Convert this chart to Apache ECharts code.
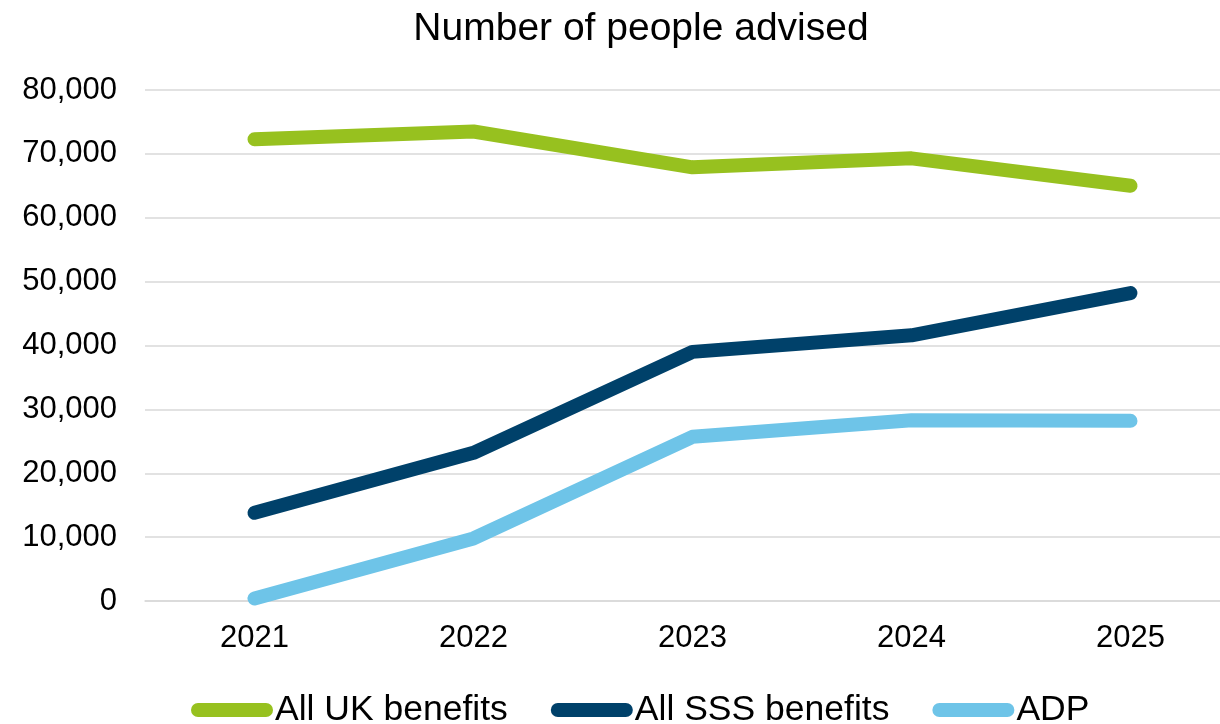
<!DOCTYPE html>
<html>
<head>
<meta charset="utf-8">
<script src="https://cdn.jsdelivr.net/npm/echarts@6/dist/echarts.min.js"></script>
<style>
html,body{margin:0;padding:0;background:#fff;overflow:hidden;width:1220px;height:724px;}
#chart{width:1240px;height:724px;}
</style>
</head>
<body>
<div id="chart"></div>
<script>
const categories = ['2021', '2022', '2023', '2024', '2025'];
const ukBenefits = [72300, 73500, 67900, 69300, 65000];
const sssBenefits = [13800, 23200, 39000, 41600, 48200];
const adp = [400, 9800, 25700, 28300, 28200];
const seriesNames = ['All UK benefits', 'All SSS benefits', 'ADP'];
const colors = ['#97C11F', '#00416A', '#6EC4E8'];

const font = 'Liberation Sans, Arial, sans-serif';
const chart = echarts.init(document.getElementById('chart'));

function fmt(v) {
  return String(v).replace(/\B(?=(\d{3})+(?!\d))/g, ',');
}

function lineSeries(name, data, color) {
  return {
    name: name,
    type: 'line',
    data: data,
    symbol: 'none',
    color: color,
    lineStyle: { width: 14, color: color, cap: 'round', join: 'round' },
    emphasis: { disabled: true },
    animation: false
  };
}

chart.setOption({
  animation: false,
  textStyle: { fontFamily: font },
  title: {
    text: 'Number of people advised',
    left: 636,
    top: 5,
    textAlign: 'center',
    textStyle: { fontFamily: font, fontSize: 39, fontWeight: 'normal', color: '#000' }
  },
  legend: {
    data: seriesNames,
    left: 191,
    top: 692,
    padding: 0,
    itemGap: 43,
    itemWidth: 82,
    itemHeight: 14,
    icon: 'path://M7,0 L75,0 A7,7 0 0 1 75,14 L7,14 A7,7 0 0 1 7,0 Z',
    textStyle: { fontFamily: font, fontSize: 35.5, color: '#000', padding: [0, 0, 0, -3] }
  },
  grid: { left: 145, top: 90, bottom: 123, right: 0, containLabel: false },
  xAxis: {
    type: 'category',
    data: categories,
    boundaryGap: true,
    axisLine: { show: true, lineStyle: { color: '#D9D9D9', width: 1.5 } },
    axisTick: { show: false },
    axisLabel: { fontFamily: font, fontSize: 31, color: '#000', margin: 22 }
  },
  yAxis: {
    type: 'value',
    min: 0,
    max: 80000,
    interval: 10000,
    axisLine: { show: false },
    axisTick: { show: false },
    axisLabel: { fontFamily: font, fontSize: 31, color: '#000', margin: 28, formatter: fmt },
    splitLine: { lineStyle: { color: '#D9D9D9', width: 1.5 } }
  },
  series: [
    lineSeries(seriesNames[0], ukBenefits, colors[0]),
    lineSeries(seriesNames[1], sssBenefits, colors[1]),
    lineSeries(seriesNames[2], adp, colors[2])
  ]
});
</script>
</body>
</html>
